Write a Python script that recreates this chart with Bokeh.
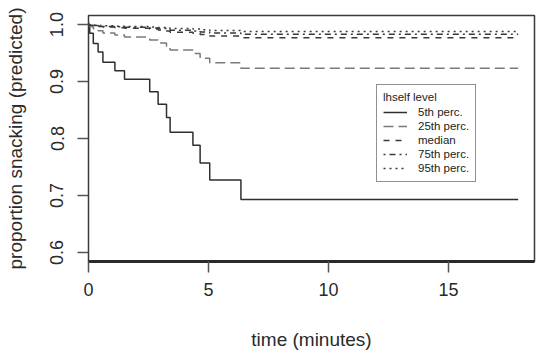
from bokeh.plotting import figure
from bokeh.models import FixedTicker, PrintfTickFormatter, Legend, LegendItem, Range1d
from bokeh.embed import file_html
from bokeh.resources import INLINE

# Event times (minutes) shared by all predicted survival curves
times = [0, 0.05, 0.2, 0.4, 0.6, 1.1, 1.5, 2.55, 2.9, 3.25, 3.4, 4.35, 4.65, 5.05, 6.35]
t_end = 17.9

# Predicted proportion still snacking, by lhself level
p05 = [1.0, 0.985, 0.967, 0.952, 0.934, 0.919, 0.904, 0.882, 0.860, 0.837, 0.811, 0.788, 0.757, 0.727, 0.693]
p25 = [1.0, 0.9967, 0.9927, 0.9893, 0.9852, 0.9818, 0.9782, 0.9730, 0.9677, 0.9620, 0.9554, 0.9494, 0.9411, 0.9329, 0.9232]
p50 = [1.0, 0.9990, 0.9979, 0.9969, 0.9957, 0.9947, 0.9936, 0.9921, 0.9905, 0.9888, 0.9868, 0.9850, 0.9825, 0.9800, 0.9770]
p75 = [1.0, 0.9993, 0.9984, 0.9977, 0.9968, 0.9961, 0.9953, 0.9941, 0.9930, 0.9917, 0.9902, 0.9889, 0.9871, 0.9852, 0.9830]
p95 = [1.0, 0.9995, 0.9989, 0.9984, 0.9978, 0.9972, 0.9967, 0.9959, 0.9951, 0.9942, 0.9931, 0.9922, 0.9909, 0.9896, 0.9880]

labels = ["5th perc.", "25th perc.", "median", "75th perc.", "95th perc."]
x_ticks = [0, 5, 10, 15]
y_ticks = [0.6, 0.7, 0.8, 0.9, 1.0]

FONT = "Liberation Sans"

p = figure(width=553, height=355, output_backend="svg", toolbar_location=None,
           x_range=Range1d(0, 18.58), y_range=Range1d(0.584, 1.016),
           min_border_left=88, min_border_right=19, min_border_top=15, min_border_bottom=94)
p.grid.visible = False
p.background_fill_color = "white"
p.border_fill_color = "white"
p.outline_line_color = "#3a3a3a"
p.outline_line_width = 1.5

styles = [
    dict(color="#2e2e2e", dash="solid"),
    dict(color="#7a7a7a", dash="10 5"),
    dict(color="#3a3a3a", dash="6 6"),
    dict(color="#3a3a3a", dash="2 4 6 4"),
    dict(color="#3a3a3a", dash="2 4"),
]

items = []
for vals, lab, st in zip([p05, p25, p50, p75, p95], labels, styles):
    xs = times + [t_end]
    ys = vals + [vals[-1]]
    r = p.step(xs, ys, mode="after", line_color=st["color"], line_width=1.5,
               line_dash=st["dash"])
    items.append(LegendItem(label=lab, renderers=[r]))

# axes
p.xaxis.ticker = FixedTicker(ticks=x_ticks)
p.yaxis.ticker = FixedTicker(ticks=y_ticks)
p.yaxis.formatter = PrintfTickFormatter(format="%.1f")
for ax in (p.xaxis[0], p.yaxis[0]):
    ax.major_tick_out = 11
    ax.major_tick_in = 0
    ax.minor_tick_line_color = None
    ax.major_tick_line_color = "#555555"
    ax.major_tick_line_width = 1.5
    ax.major_label_text_font = FONT
    ax.major_label_text_font_size = "18px"
    ax.major_label_text_color = "#2a2a2a"
    ax.axis_label_text_font = FONT
    ax.axis_label_text_font_size = "19px"
    ax.axis_label_text_font_style = "normal"
    ax.axis_label_text_color = "#2a2a2a"

p.xaxis.axis_label = "time (minutes)"
p.xaxis.axis_line_color = "#2a2a2a"
p.xaxis.axis_line_width = 3
p.xaxis.major_label_standoff = 10
p.xaxis.axis_label_standoff = 30

p.yaxis.axis_label = "proportion snacking (predicted)"
p.yaxis.axis_line_color = None
p.yaxis.major_label_orientation = "vertical"
p.yaxis.major_label_standoff = 14
p.yaxis.axis_label_standoff = 22

legend = Legend(items=items, location=(288, 79))
legend.title = "lhself level"
legend.title_text_font = FONT
legend.title_text_font_size = "11.5px"
legend.title_text_font_style = "normal"
legend.title_text_color = "#222222"
legend.title_standoff = 2
legend.label_text_font = FONT
legend.label_text_font_size = "11.5px"
legend.label_text_color = "#222222"
legend.padding = 6
legend.margin = 0
legend.spacing = 0
legend.glyph_width = 24
legend.glyph_height = 14
legend.label_height = 14
legend.label_standoff = 11
legend.border_line_color = "#222222"
legend.border_line_width = 1.2
legend.background_fill_color = "white"
legend.background_fill_alpha = 1.0
p.add_layout(legend, "center")

open("out.html", "w").write(file_html(p, INLINE))
